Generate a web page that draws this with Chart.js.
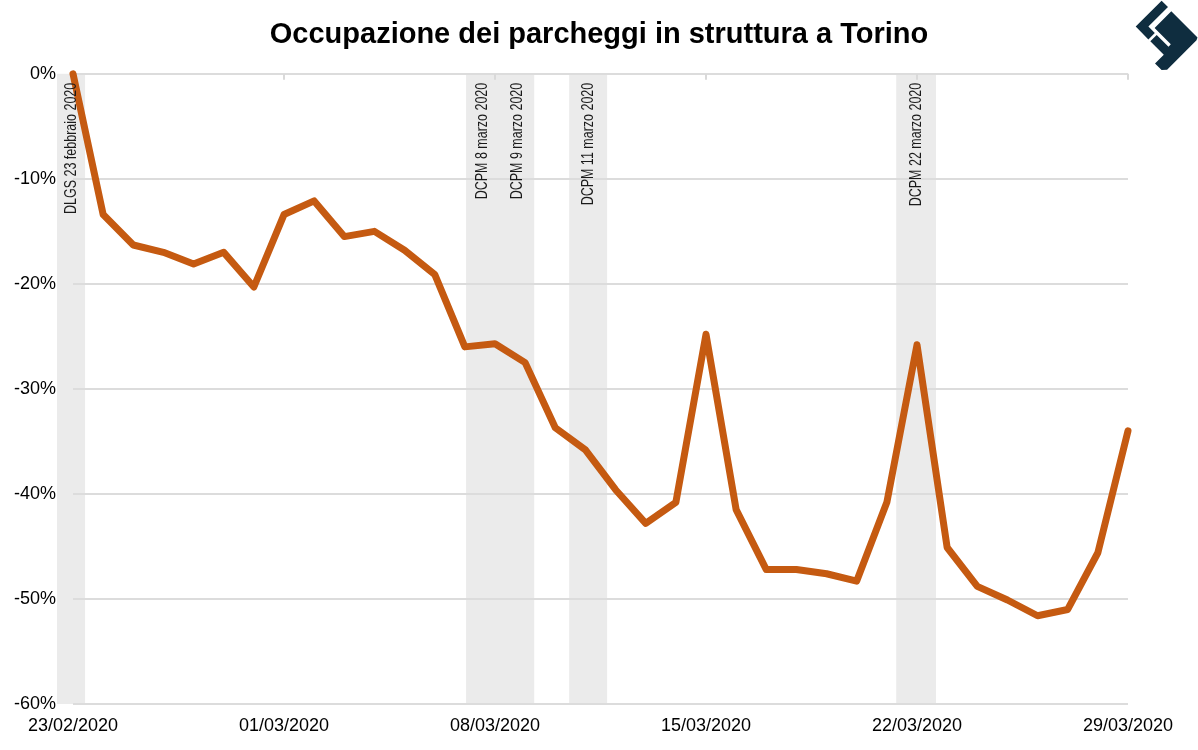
<!DOCTYPE html>
<html>
<head>
<meta charset="utf-8">
<script src="https://cdn.jsdelivr.net/npm/chart.js@4.4.0/dist/chart.umd.min.js"></script>
<style>
  html, body { margin: 0; padding: 0; background: #fff; }
  #wrap { width: 1198px; height: 750px; }
</style>
</head>
<body>
<div id="wrap"><canvas id="chartParcheggi"></canvas></div>
<script>
// giorni dal 23/02/2020 al 29/03/2020
var dayLabels = [
  '23/02/2020','24/02/2020','25/02/2020','26/02/2020','27/02/2020','28/02/2020','29/02/2020',
  '01/03/2020','02/03/2020','03/03/2020','04/03/2020','05/03/2020','06/03/2020','07/03/2020',
  '08/03/2020','09/03/2020','10/03/2020','11/03/2020','12/03/2020','13/03/2020','14/03/2020',
  '15/03/2020','16/03/2020','17/03/2020','18/03/2020','19/03/2020','20/03/2020','21/03/2020',
  '22/03/2020','23/03/2020','24/03/2020','25/03/2020','26/03/2020','27/03/2020','28/03/2020',
  '29/03/2020'
];

// variazione occupazione (%)
var occupazione = [
  0, -13.4, -16.3, -17.0, -18.1, -17.0, -20.3,
  -13.4, -12.1, -15.5, -15.0, -16.8, -19.1, -26.0,
  -25.7, -27.5, -33.7, -35.8, -39.6, -42.8, -40.8,
  -24.8, -41.5, -47.2, -47.2, -47.6, -48.3, -40.8,
  -25.8, -45.1, -48.8, -50.1, -51.6, -51.0, -45.6,
  -34.0
];

var yTicks = [0, -10, -20, -30, -40, -50, -60];

// decreti: etichetta, giorno (indice) dove cade il testo
var eventLabels = ['DLGS 23 febbraio 2020', 'DCPM 8 marzo 2020', 'DCPM 9 marzo 2020', 'DCPM 11 marzo 2020', 'DCPM 22 marzo 2020'];
var eventDays = [-0.07, 13.57, 14.73, 17.09, 27.97];
// fasce grigie (inizio, fine) in giorni
var bandStart = [-0.53, 13.04, 16.46, 27.31];
var bandEnd = [0.40, 15.30, 17.72, 28.63];

var points = occupazione.map(function (v, i) { return { x: i, y: v }; });

// fasce + etichette verticali, disegnate sotto la griglia
var decretiPlugin = {
  id: 'decreti',
  beforeDraw: function (chart) {
    var ctx = chart.ctx, xs = chart.scales.x, area = chart.chartArea;
    ctx.save();
    ctx.fillStyle = '#ebebeb';
    for (var i = 0; i < bandStart.length; i++) {
      var x0 = xs.getPixelForValue(bandStart[i]);
      var x1 = xs.getPixelForValue(bandEnd[i]);
      ctx.fillRect(x0, area.top, x1 - x0, area.bottom - area.top);
    }
    ctx.restore();
  },
  afterDraw: function (chart) {
    var ctx = chart.ctx, xs = chart.scales.x, area = chart.chartArea;
    ctx.save();
    ctx.fillStyle = '#1a1a1a';
    ctx.font = '16px "Liberation Sans", Arial, sans-serif';
    ctx.textAlign = 'right';
    ctx.textBaseline = 'middle';
    for (var i = 0; i < eventLabels.length; i++) {
      var x = xs.getPixelForValue(eventDays[i]);
      ctx.save();
      ctx.translate(x, area.top + 9);
      ctx.rotate(-Math.PI / 2);
      ctx.scale(0.78, 1.05);
      ctx.fillText(eventLabels[i], 0, 0);
      ctx.restore();
    }
    // piccole tacche sulla linea dello 0%
    ctx.strokeStyle = '#d9d9d9';
    ctx.lineWidth = 2;
    for (var d = 7; d < dayLabels.length; d += 7) {
      var tx = Math.round(xs.getPixelForValue(d));
      ctx.beginPath();
      ctx.moveTo(tx, area.top);
      ctx.lineTo(tx, area.top + 6);
      ctx.stroke();
    }
    ctx.restore();
  }
};

// logo in alto a destra
var logoPlugin = {
  id: 'logo',
  afterDraw: function (chart) {
    var ctx = chart.ctx;
    ctx.save();
    ctx.fillStyle = '#0f2d3f';
    var polyA = [[1161.6, 0.7], [1168, 7.1], [1148.4, 26.6], [1154.8, 33], [1148.4, 39.4], [1135.7, 26.6]];
    var polyB = [[1171.3, 11.3], [1197.5, 37.5], [1196.5, 40.3], [1167.1, 69.8], [1161.6, 70], [1155, 63.4],
                 [1163.8, 54.7], [1150.3, 41.2], [1156.7, 34.9], [1168.5, 46.7], [1170.8, 44.3], [1154.6, 28]];
    [polyA, polyB].forEach(function (p) {
      ctx.beginPath();
      ctx.moveTo(p[0][0], p[0][1]);
      for (var i = 1; i < p.length; i++) ctx.lineTo(p[i][0], p[i][1]);
      ctx.closePath();
      ctx.fill();
    });
    ctx.restore();
  }
};

Chart.defaults.font.family = '"Liberation Sans", Arial, sans-serif';
Chart.defaults.color = '#000';

new Chart(document.getElementById('chartParcheggi'), {
  type: 'line',
  data: {
    datasets: [{
      label: 'Occupazione',
      data: points,
      borderColor: '#c55a11',
      borderWidth: 7,
      pointRadius: 0,
      tension: 0,
      borderJoinStyle: 'round',
      borderCapStyle: 'round',
      clip: false
    }]
  },
  options: {
    responsive: true,
    maintainAspectRatio: false,
    animation: false,
    layout: { padding: 0 },
    plugins: {
      legend: { display: false },
      tooltip: { enabled: false },
      title: {
        display: true,
        text: 'Occupazione dei parcheggi in struttura a Torino',
        color: '#000',
        font: { size: 29, weight: 'bold' },
        padding: { top: 18, bottom: 21 }
      }
    },
    scales: {
      x: {
        type: 'linear',
        min: 0,
        max: dayLabels.length - 1,
        grid: { display: false },
        border: { display: false },
        afterBuildTicks: function (axis) {
          axis.ticks = [];
          for (var d = 0; d < dayLabels.length; d += 7) axis.ticks.push({ value: d });
        },
        ticks: {
          font: { size: 18 },
          padding: 3,
          maxRotation: 0,
          autoSkip: false,
          callback: function (v) { return dayLabels[v]; }
        },
        afterFit: function (axis) { axis.height = 46; }
      },
      y: {
        min: -60,
        max: 0,
        afterBuildTicks: function (axis) {
          axis.ticks = yTicks.map(function (v) { return { value: v }; });
        },
        grid: { color: '#dcdcdc', lineWidth: 2, drawTicks: false },
        border: { display: false },
        ticks: {
          font: { size: 18 },
          padding: 17,
          callback: function (v) { return v + '%'; }
        },
        afterFit: function (axis) { axis.width = 73; }
      },
      // asse vuoto a destra, solo per lo spazio
      margine: {
        position: 'right',
        min: -60,
        max: 0,
        grid: { display: false },
        border: { display: false },
        ticks: { display: false },
        afterFit: function (axis) { axis.width = 70; }
      }
    }
  },
  plugins: [decretiPlugin, logoPlugin]
});
</script>
</body>
</html>
